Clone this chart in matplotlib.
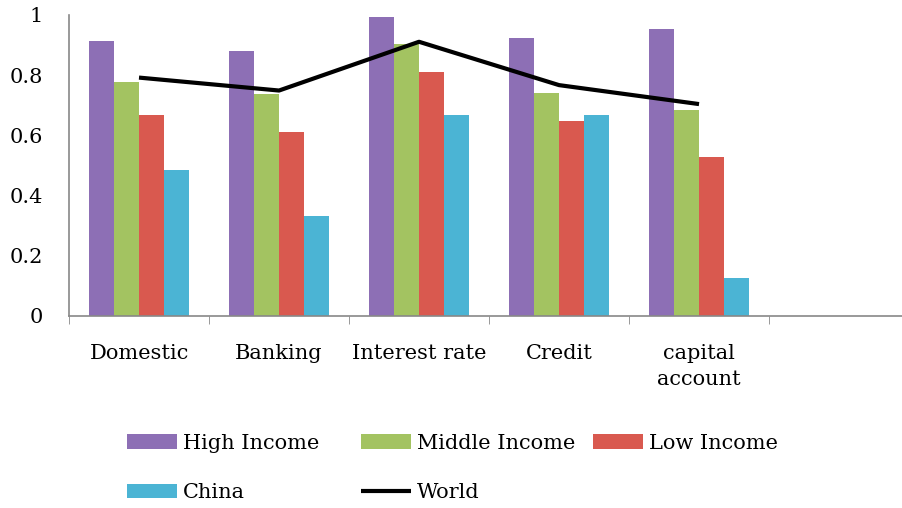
import matplotlib
matplotlib.use("Agg")
import matplotlib.pyplot as plt
import numpy as np

# data
categories = ["Domestic", "Banking", "Interest rate", "Credit", "capital\naccount", ""]
high_income = [0.915, 0.879, 0.992, 0.922, 0.953]
middle_income = [0.778, 0.738, 0.904, 0.740, 0.684]
low_income = [0.668, 0.612, 0.812, 0.649, 0.527]
china = [0.486, 0.333, 0.669, 0.669, 0.126]
world = [0.792, 0.749, 0.911, 0.767, 0.704]
y_ticks = [0, 0.2, 0.4, 0.6, 0.8, 1.0]
y_labels = ["0", "0.2", "0.4", "0.6", "0.8", "1"]

plt.rcParams['font.family'] = ['DejaVu Serif']
plt.rcParams['font.size'] = 15

fig = plt.figure(figsize=(9.02, 5.08), dpi=100)
ax = fig.add_axes([0.0765, 0.378, 0.9313, 0.5925])

x = np.arange(len(high_income))
w = 0.18
b1 = ax.bar(x - 1.5 * w, high_income, w, color="#8D6FB5", label="High Income")
b2 = ax.bar(x - 0.5 * w, middle_income, w, color="#A3C361", label="Middle Income")
b3 = ax.bar(x + 0.5 * w, low_income, w, color="#D9594F", label="Low Income")
b4 = ax.bar(x + 1.5 * w, china, w, color="#4BB4D4", label="China")
ln, = ax.plot(x, world, color="black", lw=3, solid_joinstyle="round",
              solid_capstyle="butt", label="World")

ax.set_xlim(-0.5, len(categories) - 0.5)
ax.set_ylim(0, 1)
ax.set_yticks(y_ticks)
ax.set_yticklabels(y_labels)
ax.set_xticks(np.arange(len(categories)))
ax.set_xticklabels(categories, linespacing=1.45, va="top")
ax.set_xticks(np.arange(len(categories) + 1) - 0.5, minor=True)
ax.tick_params(axis="x", which="major", length=0, pad=20)
ax.tick_params(axis="x", which="minor", length=6, color="#888888", direction="out")
ax.tick_params(axis="y", length=0, pad=19)

for s in ["top", "right"]:
    ax.spines[s].set_visible(False)
for s in ["left", "bottom"]:
    ax.spines[s].set_color("#888888")
    ax.spines[s].set_linewidth(1.2)

# legend laid out in three columns like the original
cols = [([b1, b4], 127), ([b2, ln], 361), ([b3], 593)]
for hs, px in cols:
    fig.legend(hs, [h.get_label() for h in hs], loc="upper left",
               bbox_to_anchor=(px / 902, 1 - 434 / 508),
               bbox_transform=fig.transFigure, frameon=False, handlelength=2.4,
               handleheight=0.7, handletextpad=0.28, labelspacing=1.45,
               borderpad=0, borderaxespad=0)

fig.savefig("out.png", dpi=100)
